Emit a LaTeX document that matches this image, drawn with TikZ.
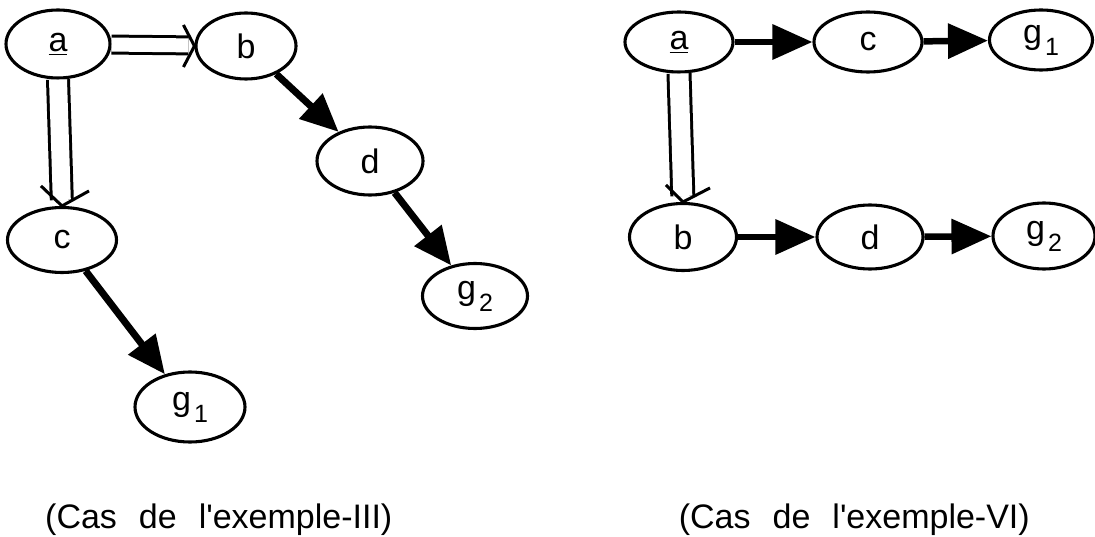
\documentclass[tikz,border=0pt]{standalone}
\usepackage{fontspec}
\newfontfamily\lsans{Liberation Sans}
\usetikzlibrary{shapes.geometric,arrows.meta,calc}
\newcommand{\nodefont}{\lsans\fontsize{34}{36}\selectfont}
\newcommand{\gsub}[1]{g\hspace{3pt}\raisebox{-12pt}{\fontsize{25}{26}\selectfont #1}}
\begin{document}
\begin{tikzpicture}[x=1pt,y=-1pt,
  nd/.style={ellipse, draw, line width=3.1pt, minimum width=106pt, minimum height=66pt,
    inner sep=0pt},
  dbl/.style={double, double distance=14pt, line width=3pt, shorten >=6pt},
  barb/.style={line width=3pt, line join=miter},
  thk/.style={line width=7pt, -{Triangle[length=38pt,width=33pt]}},
  thkh/.style={line width=6.5pt, -{Triangle[length=40pt,width=34pt]}},
  captxt/.style={font=\lsans\fontsize{34}{38}\selectfont, inner sep=0pt}]
\useasboundingbox (0,0) rectangle (1095,537);

% left diagram
\node[nd, minimum width=104pt, minimum height=68pt] (a) at (58,44) {\nodefont\underline{a}};
\node[nd, minimum width=100pt] (b) at (246,46) {\nodefont b};
\node[nd, minimum height=68pt] (d) at (370,161) {\nodefont d};
\node[nd, minimum width=105pt, minimum height=65pt] (g2L) at (475,296) {\nodefont\gsub{2}};
\node[nd, minimum width=109pt, minimum height=65pt] (cL) at (62,240) {\nodefont c};
\node[nd, minimum width=110pt, minimum height=70pt] (g1L) at (190,407) {\nodefont\gsub{1}};

\draw[dbl] (a) -- (b);
\draw[barb] ($(b.west)+(-11,-21)$) -- (b.west) -- ($(b.west)+(-11,21)$);
\draw[dbl, double distance=18pt] (a.south) -- (cL.north);
\draw[barb] ($(cL.north)+(-21,-20)$) -- (cL.north) -- ($(cL.north)+(27,-15)$);
\draw[thk] (b) -- (d);
\draw[thk] (d) -- (g2L);
\draw[thk] (cL) -- (g1L);

% right diagram
\node[nd, minimum width=108pt, minimum height=60pt] (aR) at (679,42) {\nodefont\underline{a}};
\node[nd, minimum width=108pt, minimum height=60pt] (cR) at (868,42) {\nodefont c};
\node[nd, minimum width=103pt, minimum height=60pt] (g1R) at (1041,40) {\nodefont\gsub{1}};
\node[nd, minimum width=107pt, minimum height=67pt] (bR) at (683,237) {\nodefont b};
\node[nd, minimum width=106pt, minimum height=64pt] (dR) at (870,237) {\nodefont d};
\node[nd, minimum width=102pt, minimum height=66pt] (g2R) at (1044,236) {\nodefont\gsub{2}};

\draw[dbl, double distance=19pt] (aR.south) -- (bR.north);
\draw[barb] ($(bR.north)+(-17,-17)$) -- (bR.north) -- ($(bR.north)+(27,-14)$);
\draw[thkh] (aR) -- (cR);
\draw[thkh] (cR) -- (g1R);
\draw[thkh] (bR) -- (dR);
\draw[thkh] (dR) -- (g2R);

% captions
\node[captxt, anchor=base west] (capL) at (45,528) {(Cas\hspace{22pt}de\hspace{22pt}l'exemple-III)};
\node[captxt, anchor=base east] (capR) at (1030,528) {(Cas\hspace{22pt}de\hspace{22pt}l'exemple-VI)};
\end{tikzpicture}
\end{document}
